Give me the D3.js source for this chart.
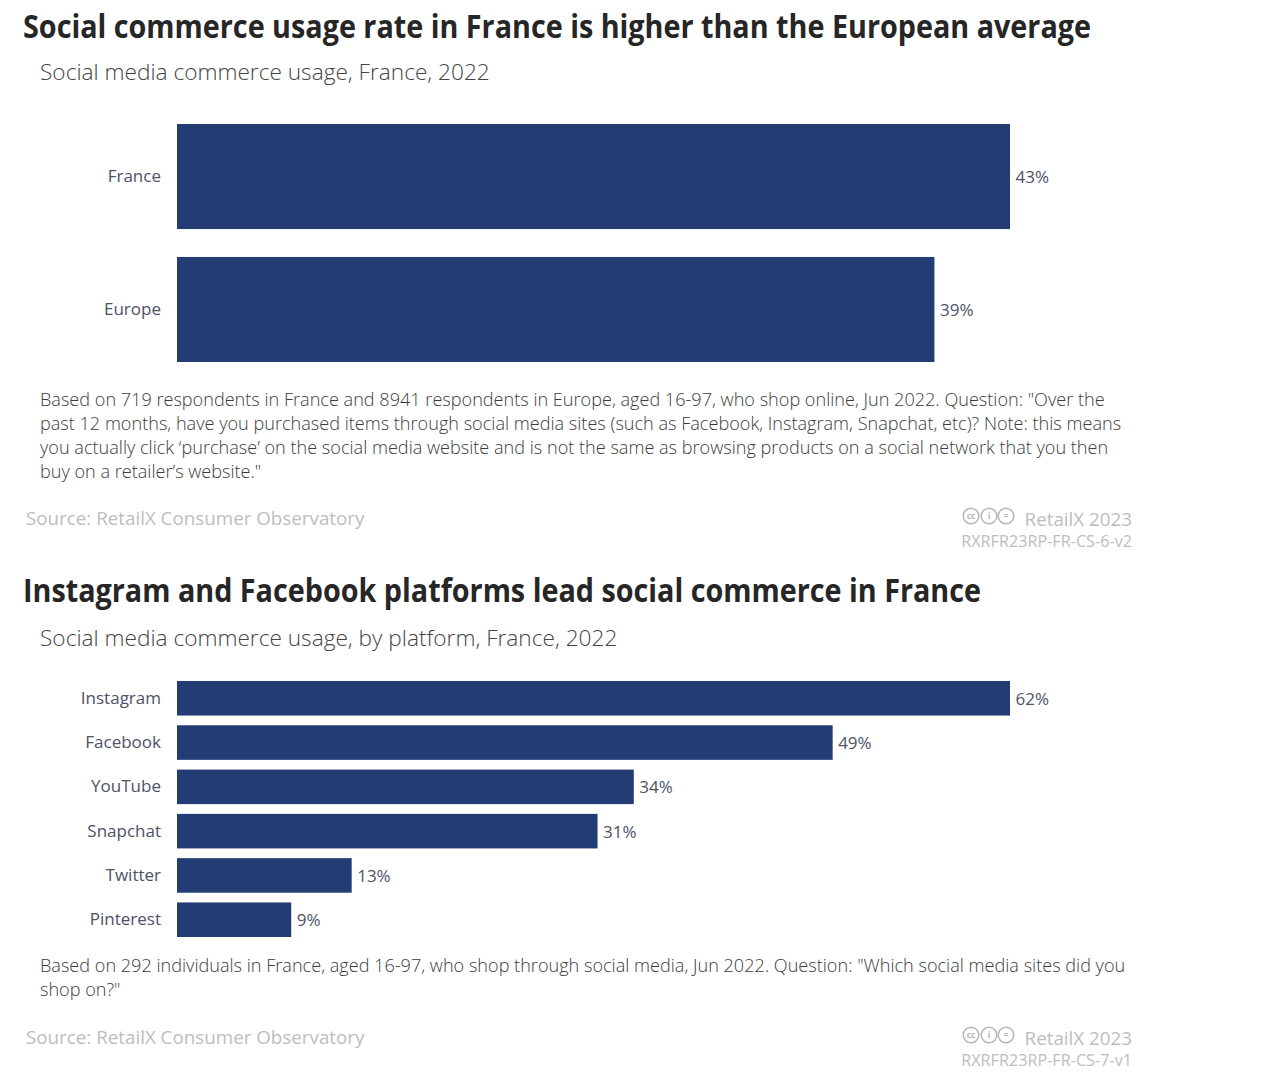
<!DOCTYPE html>
<html>
<head>
<meta charset="utf-8">
<script src="https://cdn.jsdelivr.net/npm/d3@7"></script>
<style>
  body { margin: 0; background: #fff; }
  text { font-family: "Open Sans", sans-serif; }
</style>
</head>
<body>
<script>
// top chart
const regions = ["France", "Europe"];
const regionValues = [43, 39.1];
// bottom chart, bar lengths, labels are rounded
const platforms = ["Instagram", "Facebook", "YouTube", "Snapchat", "Twitter", "Pinterest"];
const platformValues = [62, 48.8, 34, 31.3, 13, 8.5];

const title1 = "Social commerce usage rate in France is higher than the European average";
const subtitle1 = "Social media commerce usage, France, 2022";
const note1 = [
  "Based on 719 respondents in France and 8941 respondents in Europe, aged 16-97, who shop online, Jun 2022. Question: \"Over the",
  "past 12 months, have you purchased items through social media sites (such as Facebook, Instagram, Snapchat, etc)? Note: this means",
  "you actually click \u2018purchase\u2019 on the social media website and is not the same as browsing products on a social network that you then",
  "buy on a retailer\u2019s website.\""
];
const title2 = "Instagram and Facebook platforms lead social commerce in France";
const subtitle2 = "Social media commerce usage, by platform, France, 2022";
const note2 = [
  "Based on 292 individuals in France, aged 16-97, who shop through social media, Jun 2022. Question: \"Which social media sites did you",
  "shop on?\""
];

var barColor = "#243c74";
var labelColor = "#4d5266";
var noteColor = "#3c3c3c";
var greyText = "#bdbdbd";
var svg = d3.select("body").append("svg").attr("width", 1269).attr("height", 1080);

function addText(x, y, str, size, color, weight, anchor) {
  return svg.append("text")
    .attr("x", x).attr("y", y)
    .attr("font-size", size)
    .attr("fill", color)
    .attr("font-weight", weight || 400)
    .attr("text-anchor", anchor || "start")
    .text(str);
}

function ccIcon(cx, cy, glyph) {
  svg.append("circle").attr("cx", cx).attr("cy", cy).attr("r", 7.8)
    .attr("fill", "none").attr("stroke", "#b5b5b5").attr("stroke-width", 1.5);
  svg.append("text").attr("x", cx).attr("y", cy + 3).attr("font-size", 8.5)
    .attr("fill", "#b5b5b5").attr("font-weight", 700).attr("text-anchor", "middle").text(glyph);
}

function drawPanel(o) {
  addText(23, o.titleY, o.title, 32, "#262626", 700).attr("textLength", o.titleLen).attr("lengthAdjust", "spacingAndGlyphs");
  addText(40, o.subY, o.subtitle, 22.65, "#444", 300);

  var x = d3.scaleLinear().domain([0, o.max]).range([177, 1010]);
  var y = d3.scaleBand().domain(o.cats).range(o.yRange).paddingInner(o.pad).paddingOuter(0);

  var yAxis = d3.axisLeft(y).tickSize(0).tickPadding(16);
  var g = svg.append("g").attr("transform", "translate(177,0)").call(yAxis);
  g.select(".domain").remove();
  g.selectAll("text").attr("font-size", 17).attr("fill", labelColor).style("font-family", "'Open Sans', sans-serif");

  svg.append("g").selectAll("rect")
    .data(o.values)
    .enter()
    .append("rect")
    .attr("x", x(0))
    .attr("y", (d, i) => y(o.cats[i]))
    .attr("width", d => x(d) - x(0))
    .attr("height", y.bandwidth())
    .attr("fill", barColor);

  svg.append("g").selectAll("text")
    .data(o.values)
    .enter()
    .append("text")
    .attr("x", d => x(d) + 5.5)
    .attr("y", (d, i) => y(o.cats[i]) + y.bandwidth() / 2 + 6.5)
    .attr("font-size", 17)
    .attr("fill", labelColor)
    .text(d => Math.round(d) + "%");

  o.note.forEach((line, i) => {
    addText(40, o.noteY + i * 24, line, 18.1, noteColor, 300);
  });

  addText(26, o.srcY, "Source: RetailX Consumer Observatory", 18.8, greyText, 400);
  ccIcon(971, o.srcY - 9, "cc");
  ccIcon(989, o.srcY - 9, "i");
  ccIcon(1006, o.srcY - 9, "=");
  addText(1132, o.srcY + 1, "RetailX 2023", 18.8, greyText, 400, "end");
  addText(1132, o.srcY + 22, o.code, 16.2, greyText, 400, "end");
}

drawPanel({
  title: title1, titleLen: 1068, titleY: 38, subtitle: subtitle1, subY: 80,
  cats: regions, values: regionValues, max: 43, yRange: [124, 362], pad: 0.21,
  note: note1, noteY: 406, srcY: 525, code: "RXRFR23RP-FR-CS-6-v2"
});
drawPanel({
  title: title2, titleLen: 958, titleY: 602, subtitle: subtitle2, subY: 646,
  cats: platforms, values: platformValues, max: 62, yRange: [681, 937], pad: 0.22,
  note: note2, noteY: 972, srcY: 1044, code: "RXRFR23RP-FR-CS-7-v1"
});
</script>
</body>
</html>
